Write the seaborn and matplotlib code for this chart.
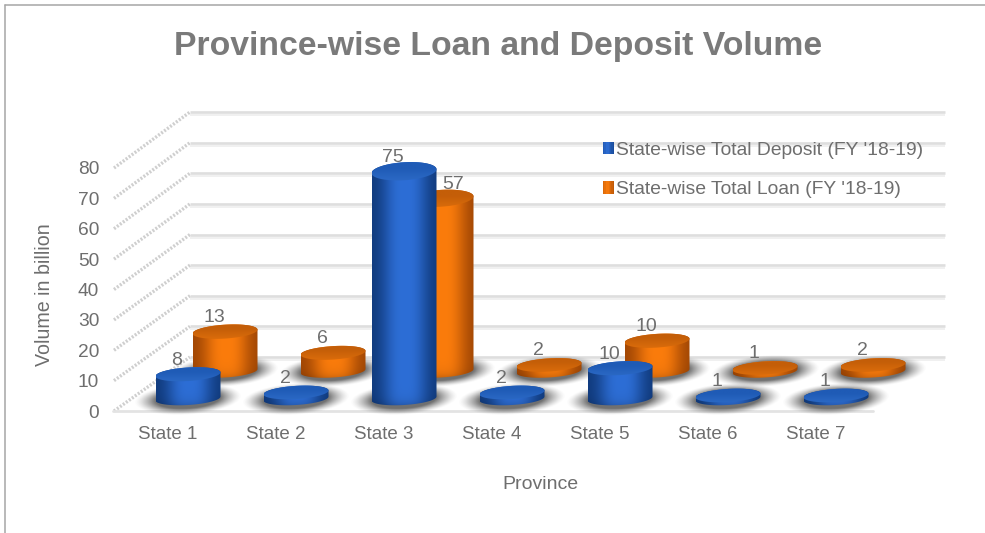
import numpy as np
import matplotlib
matplotlib.use("Agg")
import matplotlib.pyplot as plt
import seaborn as sns
from matplotlib.lines import Line2D
from matplotlib.patches import Patch, Polygon, Rectangle
from matplotlib.legend_handler import HandlerBase
from matplotlib.transforms import Affine2D, IdentityTransform

states = ["State 1", "State 2", "State 3", "State 4", "State 5", "State 6", "State 7"]
deposit = [8, 2, 75, 2, 10, 1, 1]
loan = [13, 6, 57, 2, 10, 1, 2]
axis_ticks = list(range(0, 90, 10))
deposit_name = "State-wise Total Deposit (FY '18-19)"
loan_name = "State-wise Total Loan (FY '18-19)"

W, H = 985, 533
TEXT = "#6e6e6e"
GRID = "#dedede"
BLUE = {"edge": "#103a7c", "mid": "#2d6ed6", "top": "#1f5bb6", "rim": "#2f6dc9"}
ORANGE = {"edge": "#a04604", "mid": "#fb7c0c", "top": "#c45e08", "rim": "#e0700c"}

sns.set_theme(style="white")
plt.rcParams["font.family"] = ["Liberation Sans", "DejaVu Sans"]

fig = plt.figure(figsize=(W / 100, H / 100), dpi=100, facecolor="white")


def pixel_axes(left, right, top, bottom, zorder):
    ax = fig.add_axes([left / W, 1 - bottom / H, (right - left) / W, (bottom - top) / H])
    ax.patch.set_alpha(0)
    ax.set_zorder(zorder)
    return ax


def hex_rgb(c):
    return np.array(matplotlib.colors.to_rgb(c))


# Back wall carrying the horizontal gridlines
wall = pixel_axes(190, 945, 112, 357, 1)
wall.set_xlim(0, 1)
wall.set_ylim(0, 80)
wall.axis("off")
wall.hlines(axis_ticks, 0, 1, color=GRID, lw=1.9, clip_on=False)
wall.hlines(axis_ticks, 0, 1, color="#f0f0f0", lw=1.4, clip_on=False,
            transform=wall.get_yaxis_transform() + Affine2D().translate(0, -3))

# Front plane carrying the axis text
frame = pixel_axes(114, 870, 168, 411, 2)
frame.set_xlim(-0.5, 6.5)
frame.set_ylim(0, 80)
sns.despine(ax=frame, left=True, bottom=True)
frame.set_xticks(range(len(states)), states)
frame.set_yticks(axis_ticks)
frame.tick_params(axis="x", length=0, pad=10.8, labelsize=13.5, colors=TEXT)
frame.tick_params(axis="y", length=0, pad=10.7, labelsize=13.8, colors=TEXT)
frame.set_xlabel("Province", fontsize=14, color=TEXT, va="center")
frame.set_ylabel("Volume in billion", fontsize=14.1, color=TEXT, va="center")
frame.xaxis.set_label_coords(0.564, -0.304)
frame.yaxis.set_label_coords(-0.0915, 0.48)

# Floor edges and the slanted side wall that joins both planes
fig.canvas.draw()
for v in axis_ticks:
    p0 = frame.transData.transform((-0.5, v))
    p1 = wall.transData.transform((0, v))
    fig.add_artist(Line2D([p0[0], p1[0]], [p0[1], p1[1]], transform=IdentityTransform(),
                          color="#cfcfcf", lw=2.4, ls=(0, (0.6, 0.5)), zorder=0.5))
front_y = frame.transData.transform((0, 0))[1]
fig.add_artist(Line2D([113, 873], [front_y, front_y], transform=IdentityTransform(),
                      color="#e3e3e3", lw=2.0, zorder=0.5))

PX_X = 108.0
PX_Y = 3.03
BASE_HALF = 6.5
TILT = 0.06
BAR_W = 65 / 108


def cap_half(v):
    # Caps open up slightly as they rise toward the viewer's eye level
    return BASE_HALF + 2.5 * v / 75


def ellipse_pts(cx, cy, t, half_px):
    x = cx + BAR_W / 2 * np.cos(t)
    y = cy + (half_px / PX_Y) * np.sin(t) + TILT * (x - cx) * PX_X / PX_Y
    return x, y


def draw_shadow(ax, cx):
    a, b = 54 / PX_X, 16 / PX_Y
    px = np.linspace(-a, a, 120)
    py = np.linspace(-b, b, 50)
    X, Y = np.meshgrid(px, py)
    Y = Y - TILT * X * PX_X / PX_Y
    r = np.sqrt((X / a) ** 2 + (Y / b) ** 2)
    alpha = np.clip((1 - r) / 0.4, 0, 1) ** 1.4 * 0.8
    img = np.zeros((*r.shape, 4))
    img[..., :3] = 0.3
    img[..., 3] = alpha
    ax.imshow(img, extent=(cx - a, cx + a, -b - 0.1, b - 0.1), origin="lower",
              aspect="auto", zorder=1, interpolation="bilinear")


def draw_cylinder(ax, bar, pal):
    cx = bar.get_x() + bar.get_width() / 2
    v = bar.get_height()
    x0, x1 = cx - BAR_W / 2, cx + BAR_W / 2
    top_half = cap_half(v)
    extra = TILT * BAR_W / 2 * PX_X / PX_Y
    low = -(BASE_HALF / PX_Y + extra)
    high = v + top_half / PX_Y + extra

    # side surface: broad bright band with darker rims and foot
    upper = ellipse_pts(cx, v, np.linspace(0, np.pi, 60), top_half)
    lower = ellipse_pts(cx, 0, np.linspace(np.pi, 2 * np.pi, 60), BASE_HALF)
    body = Polygon(np.column_stack([np.r_[upper[0], lower[0]], np.r_[upper[1], lower[1]]]),
                   transform=ax.transData, fc="none", ec="none")
    ax.add_patch(body)
    u = np.linspace(-1, 1, 128)
    shade = np.exp(-(np.abs(u - 0.02) / 0.68) ** 2.8)[None, :, None]
    rows = np.linspace(low, high, 120)
    foot = 1 - 0.22 * np.exp(-np.clip(rows - low, 0, None) * PX_Y / 5)
    img = hex_rgb(pal["edge"]) + (hex_rgb(pal["mid"]) - hex_rgb(pal["edge"])) * shade
    img = img * foot[:, None, None]
    im = ax.imshow(np.clip(img, 0, 1), extent=(x0, x1, low, high), origin="lower",
                   aspect="auto", zorder=3, interpolation="bilinear")
    im.set_clip_path(body)

    # top surface: flat colour brightening toward the near rim
    tx, ty = ellipse_pts(cx, v, np.linspace(0, 2 * np.pi, 120), top_half)
    cap = Polygon(np.column_stack([tx, ty]), transform=ax.transData, fc="none", ec="none")
    ax.add_patch(cap)
    gy, gx = np.mgrid[-1:1:60j, -1:1:120j]
    rim = np.clip((gy * -1 + 0.25), 0, 1)[..., None] * 0.7
    cap_img = hex_rgb(pal["top"]) + (hex_rgb(pal["rim"]) - hex_rgb(pal["top"])) * rim
    cap_span = top_half / PX_Y + extra
    im2 = ax.imshow(cap_img, extent=(x0, x1, v - cap_span, v + cap_span), origin="lower",
                    aspect="auto", zorder=4, interpolation="bilinear")
    im2.set_clip_path(cap)


def draw_series(left, base, values, pal, zorder):
    ax = pixel_axes(left, left + 756, base - 84 * PX_Y, base + 8 * PX_Y, zorder)
    sns.barplot(x=states, y=values, ax=ax, color=pal["mid"], width=BAR_W, saturation=1)
    ax.axis("off")
    bars = list(ax.patches)
    for bar in bars:
        bar.set_alpha(0)
        draw_shadow(ax, bar.get_x() + bar.get_width() / 2)
    for bar in bars:
        draw_cylinder(ax, bar, pal)
    ax.set_xlim(-0.5, 6.5)
    ax.set_ylim(-8, 84)
    for bar, val in zip(bars, values):
        cx = bar.get_x() + bar.get_width() / 2
        shift = 12 if val == 57 else -11
        ax.annotate(str(val), (cx, val), xytext=(shift, 14), textcoords="offset pixels",
                    ha="center", va="center", fontsize=14, color=TEXT, zorder=6,
                    annotation_clip=False)
    return ax


draw_series(134 + 37, 371, loan, ORANGE, 3)
draw_series(134, 398.5, deposit, BLUE, 4)


class GradientSquare(HandlerBase):
    """Legend key shaded from the series' bright tone to its dark tone."""

    def create_artists(self, legend, orig, xd, yd, width, height, fontsize, trans):
        c0 = hex_rgb(orig.get_facecolor()[:3])
        c1 = hex_rgb(orig.get_edgecolor()[:3])
        wide, tall = 11.0 * 0.72, 12.5 * 0.72
        n = 8
        return [
            Rectangle((-xd + i * wide / n, -yd + (height - tall) / 2), wide / n + 0.2, tall,
                      transform=trans, ec="none", fc=c0 + (c1 - c0) * abs(i / (n - 1) - 0.35))
            for i in range(n)
        ]


handles = [Patch(fc=BLUE["mid"], ec=BLUE["edge"]), Patch(fc=ORANGE["mid"], ec=ORANGE["edge"])]
leg = fig.legend(handles, [deposit_name, loan_name], loc="upper left",
                 bbox_to_anchor=(603 / W, 1 - 141.5 / H), borderaxespad=0, borderpad=0,
                 frameon=False, fontsize=13.85, labelcolor=TEXT, labelspacing=1.13,
                 handlelength=0.58, handletextpad=0.1,
                 handler_map={Patch: GradientSquare()})
leg.set_zorder(6)

fig.text(498 / W, 1 - 46.5 / H, "Province-wise Loan and Deposit Volume", ha="center", va="center",
         fontsize=24.3, fontweight="bold", color="#7a7a7a")

# Outer chart border along the top and left edges
fig.add_artist(Line2D([5, W], [H - 5, H - 5], transform=IdentityTransform(), color="#a6a6a6", lw=1.1))
fig.add_artist(Line2D([5, 5], [H - 5, 0], transform=IdentityTransform(), color="#a6a6a6", lw=1.1))

fig.savefig("out.png", dpi=100)
